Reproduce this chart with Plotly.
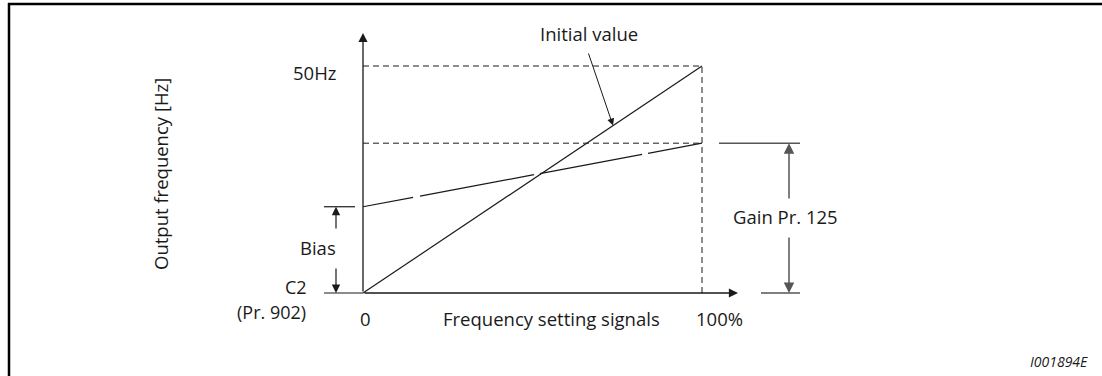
import plotly.graph_objects as go

# ---- data ----
signal_pct = [0, 100]            # frequency setting signal, % (0 .. 100%)
initial_hz = [0, 50]             # initial-value characteristic, Hz
bias_hz = 19                     # output at 0 % after bias (C2 / Pr. 902)
gain_hz = 33                     # output at 100 % after gain (Pr. 125)
adjusted_hz = [bias_hz, gain_hz] # adjusted characteristic
max_hz = 50

FONT = "Open Sans"
FS = 18.5
BLACK = "#1a1a1a"
GREY = "#555555"

W, H = 1102, 376
# layout geometry: x 0..100 % spans px 363..702, y 0..50 Hz spans px 293..66
X0, XS = 363.0, 3.39
Y0, YS = 293.0, 4.54


def X(px):
    return (px - X0) / XS


def Y(py):
    return (Y0 - py) / YS


XR = [X(0), X(W)]
YR = [Y(H), Y(0)]

fig = go.Figure()


def seg(x, y, color=BLACK, width=1, dash="solid"):
    fig.add_trace(go.Scatter(x=x, y=y, mode="lines", hoverinfo="skip",
                             line=dict(color=color, width=width, dash=dash),
                             showlegend=False))


# dashed guide lines
seg(signal_pct, [max_hz, max_hz], dash="6px,4px")
seg(signal_pct, [gain_hz, gain_hz], dash="6px,4px")
seg([signal_pct[1], signal_pct[1]], [0, max_hz], dash="6px,4px")

# characteristics
seg(signal_pct, initial_hz, width=1.2)
seg(signal_pct, adjusted_hz, width=1.2, dash="51px,7px,116px,6px,104px,6px,300px")

# tick lines for bias / gain
seg([X(324), X(355)], [bias_hz, bias_hz], width=1.2)
seg([X(324), 0], [0, 0], width=1.2)
seg([X(719), X(800)], [gain_hz, gain_hz], color=GREY, width=1.5)
seg([X(761), X(800)], [0, 0], color=GREY, width=1.5)


def arrow(x0, y0, x1, y1, color=BLACK, width=1.2):
    fig.add_annotation(x=x1, y=y1, ax=x0, ay=y0, xref="x", yref="y",
                       axref="x", ayref="y", text="", showarrow=True,
                       arrowhead=2, arrowsize=1.4, arrowwidth=width,
                       arrowcolor=color, standoff=0, startstandoff=0)


# axes with arrows
arrow(0, 0, 0, Y(33), width=1.3)
arrow(0, 0, X(738), 0, width=1.3)

# bias double arrow
arrow(X(336), Y(230), X(336), bias_hz)
arrow(X(336), Y(267), X(336), 0)
# gain double arrow
arrow(X(789), Y(200), X(789), gain_hz, color=GREY, width=1.5)
arrow(X(789), Y(236), X(789), 0, color=GREY, width=1.5)
# initial value pointer (tip lands on the initial-value line)
tip_x = X(613)
arrow(X(588), Y(52), tip_x, initial_hz[1] * tip_x / signal_pct[1], width=1)


def label(px, py, text, xanchor="center", size=FS, **kw):
    fig.add_annotation(x=X(px), y=Y(py), xref="x", yref="y", text=text,
                       showarrow=False, xanchor=xanchor, yanchor="middle",
                       font=dict(family=FONT, size=size, color=BLACK), **kw)


label(338, 72, f"{max_hz}Hz", xanchor="right")
label(309, 287, "C2", xanchor="right", size=18)
label(308, 312, "(Pr. 902)", xanchor="right", size=18)
label(338, 247, "Bias", xanchor="right")
label(365, 318, "0")
label(551, 318, "Frequency setting signals")
label(719, 318, "100%")
label(538, 33, "Initial value", xanchor="left")
label(731, 216, "Gain Pr. 125", xanchor="left")
label(160, 174, "Output frequency [Hz]", textangle=-90)

fig.add_annotation(x=1090 / W, y=1 - 361 / H, xref="paper", yref="paper",
                   text="<i>I001894E</i>", showarrow=False, xanchor="right",
                   yanchor="middle", font=dict(family=FONT, size=14, color=BLACK))

# frame (top and left edges)
fig.add_shape(type="line", xref="paper", yref="paper", x0=8 / W, x1=1,
              y0=1 - 4 / H, y1=1 - 4 / H, line=dict(color="black", width=2.5))
fig.add_shape(type="line", xref="paper", yref="paper", x0=9 / W, x1=9 / W,
              y0=0, y1=1 - 3 / H, line=dict(color="black", width=2.5))

fig.update_layout(
    width=W, height=H, autosize=False,
    margin=dict(l=0, r=0, t=0, b=0),
    paper_bgcolor="white", plot_bgcolor="white",
    xaxis=dict(range=XR, visible=False, fixedrange=True),
    yaxis=dict(range=YR, visible=False, fixedrange=True),
    showlegend=False,
)

fig.write_html("out.html", config={"displayModeBar": False},
               post_script="document.body.style.margin='0';"
                           "document.body.style.overflow='hidden';")
